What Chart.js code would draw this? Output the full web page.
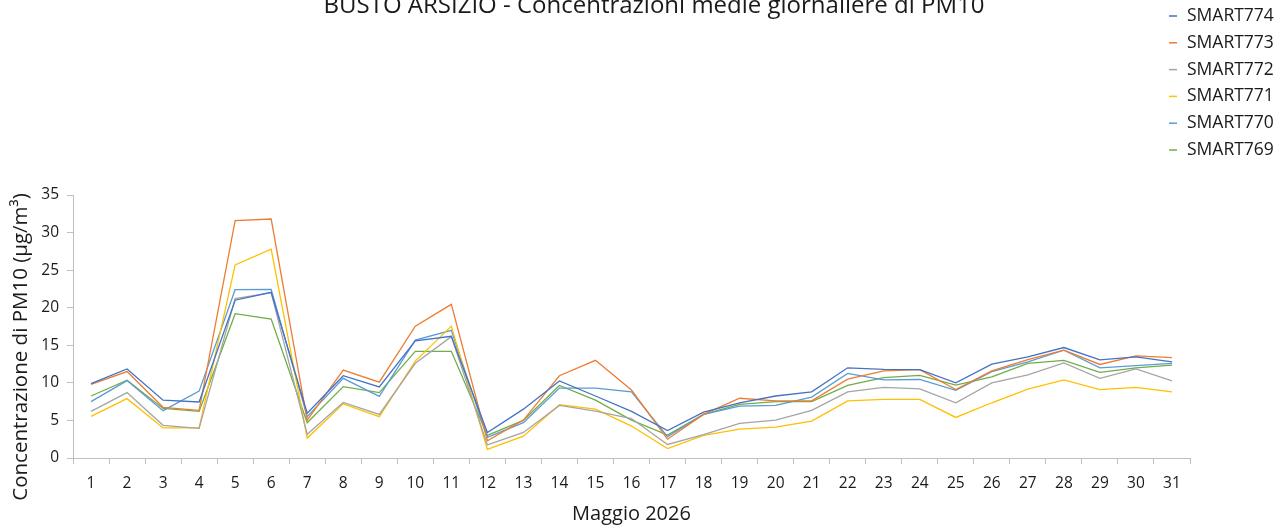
<!DOCTYPE html>
<html>
<head>
<meta charset="utf-8">
<script src="https://cdn.jsdelivr.net/npm/chart.js@4/dist/chart.umd.min.js"></script>
<style>
    body { margin: 0; background: #fff; }
    #wrap { position: relative; width: 1286px; height: 529px; }
</style>
</head>
<body>
<div id="wrap"><canvas id="pm10-chart"></canvas></div>
<script>
// Days of May 2026 (x axis categories)
var days = ['1', '2', '3', '4', '5', '6', '7', '8', '9', '10', '11', '12', '13', '14', '15', '16',
    '17', '18', '19', '20', '21', '22', '23', '24', '25', '26', '27', '28', '29', '30', '31'];

// Daily mean PM10 for each sensor (µg/m³)
var smart774 = [9.9, 11.85, 7.7, 7.45, 21.0, 22.05, 5.95, 10.95, 9.45, 15.6, 16.2, 3.4, 6.5, 10.25, 8.25, 6.2,
    3.65, 6.1, 7.35, 8.25, 8.8, 12.0, 11.8, 11.75, 10.0, 12.5, 13.45, 14.7, 13.05, 13.45, 12.8];
var smart773 = [9.8, 11.5, 6.75, 6.35, 31.6, 31.8, 5.05, 11.7, 10.1, 17.55, 20.45, 2.3, 5.05, 10.95, 13.0, 9.05,
    2.5, 5.8, 7.95, 7.6, 7.6, 10.5, 11.6, 11.75, 9.1, 11.6, 13.1, 14.35, 12.45, 13.6, 13.35];
var smart772 = [6.2, 8.7, 4.35, 3.95, 21.2, 22.0, 3.15, 7.4, 5.8, 12.6, 16.15, 1.75, 3.4, 7.0, 6.25, 5.25,
    1.8, 3.1, 4.6, 5.05, 6.35, 8.8, 9.4, 9.2, 7.35, 10.0, 11.05, 12.65, 10.6, 11.85, 10.25];
var smart771 = [5.55, 7.9, 4.0, 4.0, 25.7, 27.8, 2.65, 7.2, 5.5, 12.9, 17.55, 1.15, 2.9, 7.1, 6.5, 4.25,
    1.25, 3.0, 3.85, 4.1, 4.9, 7.6, 7.8, 7.8, 5.4, 7.35, 9.15, 10.4, 9.1, 9.4, 8.8];
var smart770 = [7.5, 10.3, 6.3, 8.9, 22.4, 22.45, 5.5, 10.6, 8.2, 15.7, 17.0, 2.75, 4.7, 9.3, 9.3, 8.8,
    2.85, 5.8, 6.9, 7.0, 8.1, 11.25, 10.4, 10.45, 9.0, 11.5, 12.8, 14.35, 12.0, 12.3, 12.6];
var smart769 = [8.25, 10.35, 6.6, 6.2, 19.2, 18.5, 4.7, 9.5, 8.7, 14.2, 14.2, 3.0, 5.0, 9.65, 7.7, 5.05,
    3.05, 5.8, 7.15, 7.5, 7.5, 9.65, 10.7, 11.0, 9.7, 10.8, 12.6, 13.0, 11.4, 12.0, 12.35];

var sensorNames = ['SMART774', 'SMART773', 'SMART772', 'SMART771', 'SMART770', 'SMART769'];
var sensorColors = ['#4472C4', '#ED7D31', '#A5A5A5', '#FFC000', '#5B9BD5', '#70AD47'];
var sensorValues = [smart774, smart773, smart772, smart771, smart770, smart769];

var chartTitle = 'BUSTO ARSIZIO - Concentrazioni medie giornaliere di PM10';
var yTitle = 'Concentrazione di PM10 (\u00B5g/m\u00B3)';
var xTitle = 'Maggio 2026';

var FONT = "'Open Sans', sans-serif";
var TEXT = '#1a1a1a';
var AXIS_GRAY = '#BFBFBF';

// Draws the chart title, the rotated y title and the legend column (Excel style layout)
var decorPlugin = {
    id: 'decor',
    afterDraw: function (chart) {
        var ctx = chart.ctx;
        ctx.save();

        // main title, partly cut off at the top like the original
        ctx.fillStyle = TEXT;
        ctx.font = '24px ' + FONT;
        ctx.textAlign = 'center';
        ctx.textBaseline = 'middle';
        ctx.fillText(chartTitle, 654, 6);

        // y axis title
        ctx.save();
        ctx.translate(21, 347);
        ctx.rotate(-Math.PI / 2);
        ctx.font = '20.5px ' + FONT;
        ctx.fillText(yTitle, 0, 0);
        ctx.restore();

        // legend, one sensor per row
        ctx.font = '17.5px ' + FONT;
        ctx.textAlign = 'left';
        chart.data.datasets.forEach(function (ds, i) {
            var y = 16 + i * 26.8;
            ctx.strokeStyle = ds.borderColor;
            ctx.lineWidth = 1.5;
            ctx.beginPath();
            ctx.moveTo(1169, y);
            ctx.lineTo(1177, y);
            ctx.stroke();
            ctx.fillStyle = TEXT;
            ctx.fillText(ds.label, 1187, y);
        });
        ctx.restore();
    }
};

var datasets = sensorNames.map(function (name, i) {
    return {
        label: name,
        data: sensorValues[i],
        borderColor: sensorColors[i],
        backgroundColor: sensorColors[i],
        borderWidth: 1.3,
        pointRadius: 0,
        tension: 0
    };
});

var ctx = document.getElementById('pm10-chart').getContext('2d');
var pmChart = new Chart(ctx, {
    type: 'line',
    data: { labels: days, datasets: datasets },
    options: {
        responsive: true,
        maintainAspectRatio: false,
        animation: false,
        layout: { padding: { top: 195, right: 96, bottom: 0, left: 0 } },
        plugins: {
            legend: { display: false },
            title: { display: false },
            tooltip: { enabled: false }
        },
        scales: {
            x: {
                offset: true,
                grid: { offset: true, drawOnChartArea: false, tickLength: 6, color: AXIS_GRAY },
                border: { color: AXIS_GRAY },
                ticks: { color: TEXT, font: { family: FONT, size: 15.5 }, padding: 10, maxRotation: 0, autoSkip: false },
                title: { display: true, text: xTitle, color: TEXT, font: { family: FONT, size: 20 }, padding: { top: 4, bottom: 3 } },
                afterFit: function (scale) { scale.height = 71; } // keep plot bottom at the original spot
            },
            y: {
                min: 0,
                max: 35,
                ticks: { stepSize: 5, color: TEXT, font: { family: FONT, size: 15.5 }, padding: 8 },
                grid: { drawOnChartArea: false, tickLength: 6, color: AXIS_GRAY },
                border: { color: AXIS_GRAY },
                afterFit: function (scale) { scale.width = 73; } // room for labels and the custom title
            }
        }
    },
    plugins: [decorPlugin]
});
</script>
</body>
</html>
